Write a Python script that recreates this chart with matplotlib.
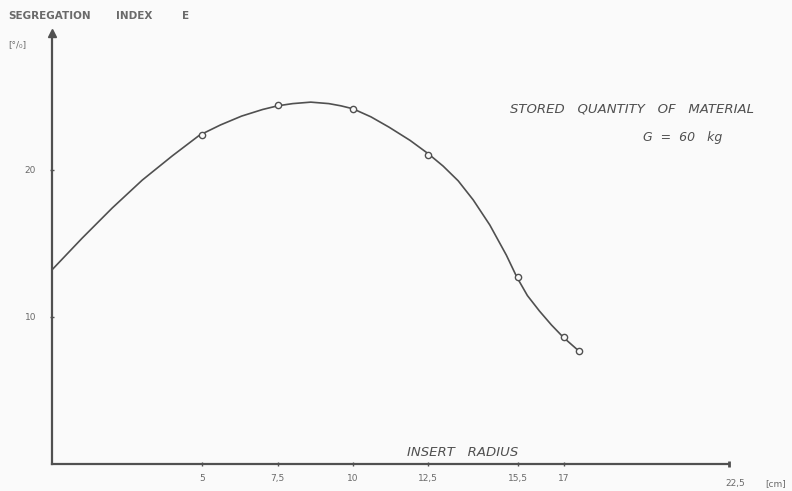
import matplotlib.pyplot as plt

# measured points (insert radius in cm, segregation index in %)
radius = [5, 7.5, 10, 12.5, 15.5, 17, 17.5]
segregation = [22.35, 24.4, 24.15, 21.0, 12.7, 8.6, 7.7]

# hand-drawn curve
curve_x = [0, 1.0, 2.0, 3.0, 4.0, 4.9, 5.6, 6.3, 7.0, 7.5, 8.0, 8.6, 9.2, 9.6,
           10.0, 10.6, 11.2, 11.9, 12.5, 13.0, 13.5, 14.0, 14.55, 15.1, 15.45,
           15.8, 16.2, 16.6, 17.0, 17.5]
curve_y = [13.2, 15.35, 17.4, 19.3, 20.95, 22.35, 23.05, 23.65, 24.1, 24.35, 24.5,
           24.6, 24.5, 24.35, 24.15, 23.6, 22.9, 22.0, 21.1, 20.25, 19.25, 17.95,
           16.25, 14.2, 12.7, 11.45, 10.4, 9.45, 8.6, 7.7]

xticks = [5, 7.5, 10, 12.5, 15.5, 17]
xtick_labels = ['5', '7,5', '10', '12,5', '15,5', '17']
yticks = [10, 20]

ink = '#505050'
txt = '#6a6a6a'
bg = '#fafafa'

fig = plt.figure(figsize=(7.92, 4.91), dpi=100)
fig.patch.set_facecolor(bg)
ax = fig.add_axes([52 / 792, 27 / 491, 677 / 792, 431 / 491])
ax.set_facecolor(bg)

ax.plot(curve_x, curve_y, color=ink, lw=1.2, solid_joinstyle='round')
ax.plot(radius, segregation, 'o', ms=4.5, mfc=bg, mec=ink, mew=1.0)

ax.set_xlim(0, 22.5)
ax.set_ylim(0, 29.3)

for s in ['top', 'right']:
    ax.spines[s].set_visible(False)
for s in ['left', 'bottom']:
    ax.spines[s].set_color(ink)
    ax.spines[s].set_linewidth(1.6)

# axis ends
ax.plot([0], [1], marker='^', ms=6, color=ink, transform=ax.transAxes, clip_on=False)
ax.plot([1], [0], marker='|', ms=5, mew=2, color=ink, transform=ax.transAxes, clip_on=False)

ax.set_xticks(xticks)
ax.set_xticklabels(xtick_labels)
ax.set_yticks(yticks)
ax.tick_params(axis='both', direction='inout', length=3, width=1, color=ink,
               labelsize=6.5, labelcolor=txt, pad=6)
ax.tick_params(axis='y', pad=10)

ax.text(22.7, -1.0, '22,5', ha='center', va='top', fontsize=6.5, color=txt)
ax.text(24.05, -1.0, '[cm]', ha='center', va='top', fontsize=6.5, color=txt)

# y axis title, spread out like the original
for word, px in [('SEGREGATION', 8), ('INDEX', 116), ('E', 182)]:
    fig.text(px / 792, 1 - 16 / 491, word, fontsize=7.5, color=txt,
             fontweight='bold', va='center', ha='left')
fig.text(8 / 792, 1 - 45 / 491, '[°/₀]', fontsize=6.5, color=txt, va='center', ha='left')

fig.text(632 / 792, 1 - 109 / 491, 'STORED   QUANTITY   OF   MATERIAL', fontsize=9.5,
         color=ink, style='italic', ha='center', va='center')
fig.text(683 / 792, 1 - 137 / 491, 'G  =  60   kg', fontsize=9,
         color=ink, style='italic', ha='center', va='center')
fig.text(463 / 792, 1 - 452 / 491, 'INSERT   RADIUS', fontsize=9.5,
         color=ink, style='italic', ha='center', va='center')

fig.savefig('out.png', dpi=100, facecolor=fig.get_facecolor())
